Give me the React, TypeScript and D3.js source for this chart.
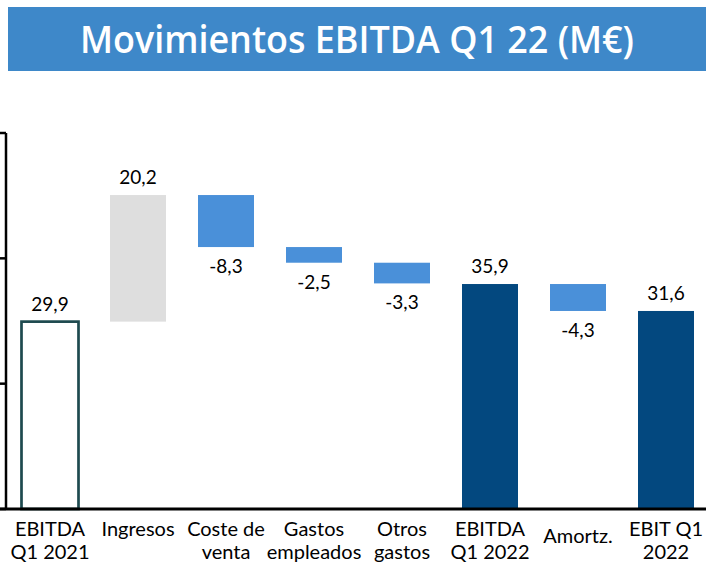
import React from "react";
import * as d3 from "d3";

const title = "Movimientos EBITDA Q1 22 (M€)";
const categories: string[][] = [
  ["EBITDA", "Q1 2021"],
  ["Ingresos"],
  ["Coste de", "venta"],
  ["Gastos", "empleados"],
  ["Otros", "gastos"],
  ["EBITDA", "Q1 2022"],
  ["Amortz."],
  ["EBIT Q1", "2022"],
];
const values = [29.9, 20.2, -8.3, -2.5, -3.3, 35.9, -4.3, 31.6];
const kinds = ["start", "increase", "decrease", "decrease", "decrease", "total", "decrease", "total"];
const yTicks = [0, 20, 40, 60];
const centeredSingle = new Set(["Amortz."]);

const W = 706;
const H = 562;
const FONT = "Lato, 'Open Sans', sans-serif";

export default function App() {
  const x = d3
    .scaleBand<number>()
    .domain(values.map((_, i) => i))
    .range([6, 710])
    .paddingInner(0.3636)
    .paddingOuter(0.1818);
  const y = d3.scaleLinear().domain([0, 60]).range([509, 133]);
  const bw = x.bandwidth();
  const fmt = (v: number) => (v < 0 ? "-" : "") + d3.format(".1f")(Math.abs(v)).replace(".", ",");

  let run = 0;
  const bars = values.map((v, i) => {
    const k = kinds[i];
    let lo: number, hi: number;
    if (k === "start" || k === "total") {
      lo = 0;
      hi = v;
      run = v;
    } else {
      const next = run + v;
      lo = Math.min(run, next);
      hi = Math.max(run, next);
      run = next;
    }
    return { i, v, k, lo, hi };
  });

  const fill = (k: string) =>
    k === "start" ? "#ffffff" : k === "increase" ? "#dedede" : k === "decrease" ? "#4a90d9" : "#03487f";

  return (
    <svg width={W} height={H} style={{ position: "absolute", left: 0, top: 0, background: "#fff" }}>
      <rect x={8} y={7} width={698} height={64} fill="#3e88c9" />
      <text
        x={357}
        y={53}
        textAnchor="middle"
        fill="#ffffff"
        fontFamily="'Open Sans', sans-serif"
        fontWeight={600}
        fontSize={37}
        textLength={554}
        lengthAdjust="spacingAndGlyphs"
      >
        {title}
      </text>

      {bars.map((b) => {
        const x0 = x(b.i)!;
        if (b.k === "start") {
          return (
            <rect
              key={b.i}
              x={x0 - 0.5}
              y={y(b.hi)}
              width={bw + 1}
              height={y(b.lo) - y(b.hi)}
              fill="#ffffff"
              stroke="#1e4a4f"
              strokeWidth={2.7}
            />
          );
        }
        return (
          <rect key={b.i} x={x0} y={y(b.hi)} width={bw} height={y(b.lo) - y(b.hi)} fill={fill(b.k)} />
        );
      })}

      {bars.map((b) => {
        const cx = x(b.i)! + bw / 2;
        const ty = b.v < 0 ? y(b.lo) + 26 : y(b.hi) - 11;
        return (
          <text key={"l" + b.i} x={cx} y={ty} textAnchor="middle" fontFamily={FONT} fontSize={19} fill="#000">
            {fmt(b.v)}
          </text>
        );
      })}

      {/* axes */}
      <line x1={6} x2={6} y1={y(60)} y2={y(0)} stroke="#000" strokeWidth={2.5} />
      {yTicks.map((t) => (
        <line key={t} x1={0} x2={6} y1={y(t)} y2={y(t)} stroke="#000" strokeWidth={2.5} />
      ))}
      <line x1={0} x2={W} y1={y(0)} y2={y(0)} stroke="#000" strokeWidth={2.8} />

      {categories.map((lines, i) => {
        const cx = x(i)! + bw / 2;
        const base = lines.length === 1 && centeredSingle.has(lines[0]) ? 543 : 536;
        return (
          <text key={"c" + i} x={cx} y={base} textAnchor="middle" fontFamily={FONT} fontSize={20} fill="#000">
            {lines.map((ln, j) => (
              <tspan key={j} x={cx} y={base + j * 23}>
                {ln}
              </tspan>
            ))}
          </text>
        );
      })}
    </svg>
  );
}
